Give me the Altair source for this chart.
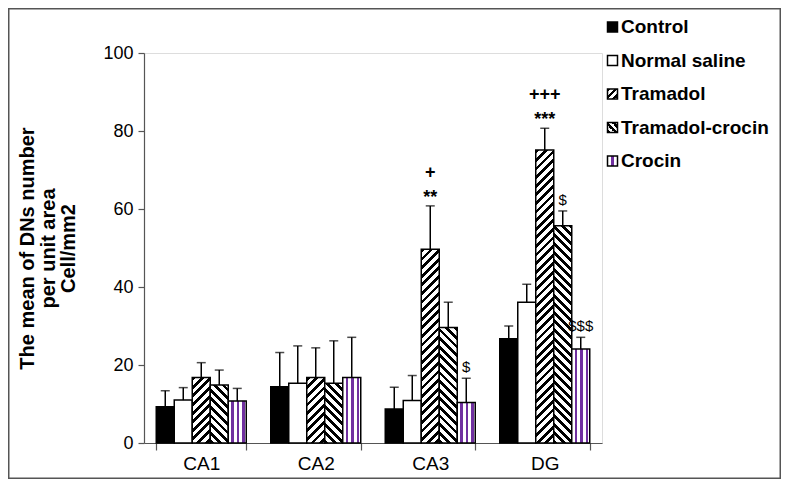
import altair as alt
import pandas as pd

# ---------------- data ----------------
groups = ["CA1", "CA2", "CA3", "DG"]
series = ["Control", "Normal saline", "Tramadol", "Tramadol-crocin", "Crocin"]

control = [9.3, 14.4, 8.7, 26.7]
control_sd = [4.1, 8.8, 5.6, 3.3]
normal_saline = [11.0, 15.3, 10.9, 36.1]
normal_saline_sd = [3.2, 9.6, 6.4, 4.6]
tramadol = [16.8, 16.8, 49.7, 75.1]
tramadol_sd = [3.8, 7.6, 11.1, 5.6]
tramadol_crocin = [14.9, 15.3, 29.6, 55.7]
tramadol_crocin_sd = [3.8, 10.9, 6.5, 3.8]
crocin = [10.8, 16.8, 10.4, 24.1]
crocin_sd = [3.2, 10.3, 6.2, 3.0]

ann_groups = ["CA3", "CA3", "CA3", "DG", "DG", "DG", "DG"]
ann_series = ["Tramadol", "Tramadol", "Crocin", "Tramadol", "Tramadol", "Tramadol-crocin", "Crocin"]
ann_labels = ["**", "+", "$", "***", "+++", "$", "$$$"]

y_ticks = [0, 20, 40, 60, 80, 100]
y_title = ["The mean of DNs number", "per unit area", "Cell/mm2"]

# ---------------- tables ----------------
means = [control, normal_saline, tramadol, tramadol_crocin, crocin]
sds = [control_sd, normal_saline_sd, tramadol_sd, tramadol_crocin_sd, crocin_sd]
rows = []
for s, m, e in zip(series, means, sds):
    for g, v, d in zip(groups, m, e):
        rows.append({"group": g, "series": s, "value": v, "sd": d, "upper": v + d})
df = pd.DataFrame(rows)

ann = pd.DataFrame({"group": ann_groups, "series": ann_series, "label": ann_labels})
ann = ann.merge(df[["group", "series", "upper"]], on=["group", "series"])

legend_df = pd.DataFrame({"series": series})

# ---------------- layout ----------------
W, H = 458, 390
PAD_L, PAD_T, PAD_R, PAD_B = 136, 45, 179, 36
px_per_unit = H / 100.0
bar_w = W / 4 * (1 - 0.214) / 5

FONT = "Liberation Sans"
PURPLE = "#7030A0"


def hatch(w, h, period, direction, frac=0.45):
    L = w + h
    k = L / (w * w + h * h)
    if direction == "/":
        x1, y1, x2, y2 = 0, 0, k * w, k * h
    else:
        x1, y1, x2, y2 = 0, 1, k * w, 1 - k * h
    stops = []
    t = 0.0
    while t < L:
        o0 = t / L
        o1 = min((t + frac * period) / L, 1.0)
        o2 = min((t + period) / L, 1.0)
        stops += [
            {"offset": o0, "color": "black"},
            {"offset": o1, "color": "black"},
            {"offset": o1, "color": "white"},
            {"offset": o2, "color": "white"},
        ]
        t += period
    return {"gradient": "linear", "x1": x1, "y1": y1, "x2": x2, "y2": y2, "stops": stops}


def vstripes(w, first, width, period, count):
    stops = [{"offset": 0, "color": "white"}]
    for i in range(count):
        a = (first + i * period) / w
        b = min((first + i * period + width) / w, 1.0)
        stops += [
            {"offset": a, "color": "white"},
            {"offset": a, "color": PURPLE},
            {"offset": b, "color": PURPLE},
            {"offset": b, "color": "white"},
        ]
    stops.append({"offset": 1, "color": "white"})
    return {"gradient": "linear", "x1": 0, "y1": 0, "x2": 1, "y2": 0, "stops": stops}


X = alt.X(
    "group:N",
    sort=groups,
    scale=alt.Scale(domain=groups, paddingInner=0.214, paddingOuter=0.107),
    axis=alt.Axis(
        title=None,
        labelAngle=0,
        labelFontSize=19,
        labelFont=FONT,
        labelColor="black",
        tickBand="extent",
        tickSize=7,
        labelPadding=4,
        domainColor="#555",
        tickColor="#555",
        domainWidth=1.2,
        tickWidth=1.2,
        grid=False,
    ),
)
XO = alt.XOffset("series:N", sort=series, scale=alt.Scale(domain=series, paddingInner=0, paddingOuter=0))
Y = alt.Y(
    "value:Q",
    scale=alt.Scale(domain=[0, 100], nice=False),
    axis=alt.Axis(
        values=y_ticks,
        title=y_title,
        titleFont=FONT,
        titleFontSize=20,
        titleFontWeight="bold",
        titleLineHeight=20.5,
        titleAlign="center",
        titleAnchor="middle",
        titlePadding=24,
        titleColor="black",
        labelFontSize=18,
        labelFont=FONT,
        labelColor="black",
        tickSize=6,
        labelPadding=5,
        domainColor="#555",
        tickColor="#555",
        domainWidth=1.2,
        tickWidth=1.2,
        grid=False,
    ),
)

base = alt.Chart(df)
layers = []
layers.append(
    base.transform_filter(alt.datum.series == "Control")
    .mark_bar(fill="black", stroke="black", strokeWidth=1.5)
    .encode(x=X, xOffset=XO, y=Y)
)
layers.append(
    base.transform_filter(alt.datum.series == "Normal saline")
    .mark_bar(fill="white", stroke="black", strokeWidth=1.5)
    .encode(x=X, xOffset=XO, y=Y)
)
for s, m, direction in [("Tramadol", tramadol, "/"), ("Tramadol-crocin", tramadol_crocin, "\\")]:
    for g, v in zip(groups, m):
        grad = hatch(bar_w, v * px_per_unit, 8.6, direction)
        layers.append(
            base.transform_filter((alt.datum.series == s) & (alt.datum.group == g))
            .mark_bar(fill=grad, stroke="black", strokeWidth=1.5)
            .encode(x=X, xOffset=XO, y=Y)
        )
layers.append(
    base.transform_filter(alt.datum.series == "Crocin")
    .mark_bar(fill=vstripes(bar_w, 3.2, 2.5, 5.3, 3), stroke="black", strokeWidth=1.5)
    .encode(x=X, xOffset=XO, y=Y)
)

# error bars
layers.append(
    base.mark_rule(color="black", strokeWidth=1.5).encode(x=X, xOffset=XO, y=Y, y2="upper:Q")
)
layers.append(
    base.mark_tick(color="black", size=9, thickness=1.5).encode(
        x=X, xOffset=XO, y=alt.Y("upper:Q", scale=alt.Scale(domain=[0, 100], nice=False))
    )
)

# annotations
ann_base = alt.Chart(ann)
Yann = alt.Y("upper:Q", scale=alt.Scale(domain=[0, 100], nice=False))
layers.append(
    ann_base.transform_filter(alt.FieldOneOfPredicate(field="label", oneOf=["**", "***"]))
    .mark_text(font=FONT, fontSize=18, fontWeight="bold", dy=-3, baseline="alphabetic", color="black")
    .encode(x=X, xOffset=XO, y=Yann, text="label:N")
)
layers.append(
    ann_base.transform_filter(alt.FieldOneOfPredicate(field="label", oneOf=["+", "+++"]))
    .mark_text(font=FONT, fontSize=18, fontWeight="bold", dy=-28, baseline="alphabetic", color="black")
    .encode(x=X, xOffset=XO, y=Yann, text="label:N")
)
layers.append(
    ann_base.transform_filter(alt.FieldOneOfPredicate(field="label", oneOf=["$", "$$$"]))
    .mark_text(font=FONT, fontSize=15, dy=-6, baseline="alphabetic", color="black")
    .encode(x=X, xOffset=XO, y=Yann, text="label:N")
)

main = alt.layer(*layers)

# ---------------- legend ----------------
Yleg = alt.Y("series:N", sort=series, scale=alt.Scale(type="point", domain=series, range=[-26, 108], padding=0), axis=None)
leg_base = alt.Chart(legend_df)
sym = 10
leg_fills = {
    "Control": "black",
    "Normal saline": "white",
    "Tramadol": hatch(sym, sym, 7, "/", 0.5),
    "Tramadol-crocin": hatch(sym, sym, 7, "\\", 0.5),
    "Crocin": vstripes(sym, 3.5, 3, 10, 1),
}
leg_layers = []
for s in series:
    leg_layers.append(
        leg_base.transform_filter(alt.datum.series == s)
        .mark_square(size=sym * sym, fill=leg_fills[s], fillOpacity=1, stroke="black", strokeWidth=1.5, opacity=1)
        .encode(x=alt.value(468.5), y=Yleg)
    )
leg_layers.append(
    leg_base.mark_text(font=FONT, fontSize=19, fontWeight="bold", align="left", baseline="middle", color="black")
    .encode(x=alt.value(477), y=Yleg, text="series:N")
)
# outer frame
leg_layers.append(
    alt.Chart(pd.DataFrame({"frame": [0]}))
    .mark_rect(filled=False, stroke="#555", strokeWidth=1.5)
    .encode(
        x=alt.value(-PAD_L + 0.75),
        x2=alt.value(W + PAD_R - 0.75),
        y=alt.value(-PAD_T + 0.75),
        y2=alt.value(H + PAD_B - 0.75),
    )
)
legend = alt.layer(*leg_layers)

chart = (
    alt.layer(main, legend)
    .resolve_scale(x="independent", y="independent")
    .properties(
        width=W,
        height=H,
        autosize=alt.AutoSizeParams(type="none"),
        padding={"left": PAD_L, "top": PAD_T, "right": PAD_R, "bottom": PAD_B},
        background="white",
    )
    .configure_view(stroke=None)
    .configure(font=FONT)
)

chart.save("out.html", embed_options={"renderer": "svg", "actions": False})
